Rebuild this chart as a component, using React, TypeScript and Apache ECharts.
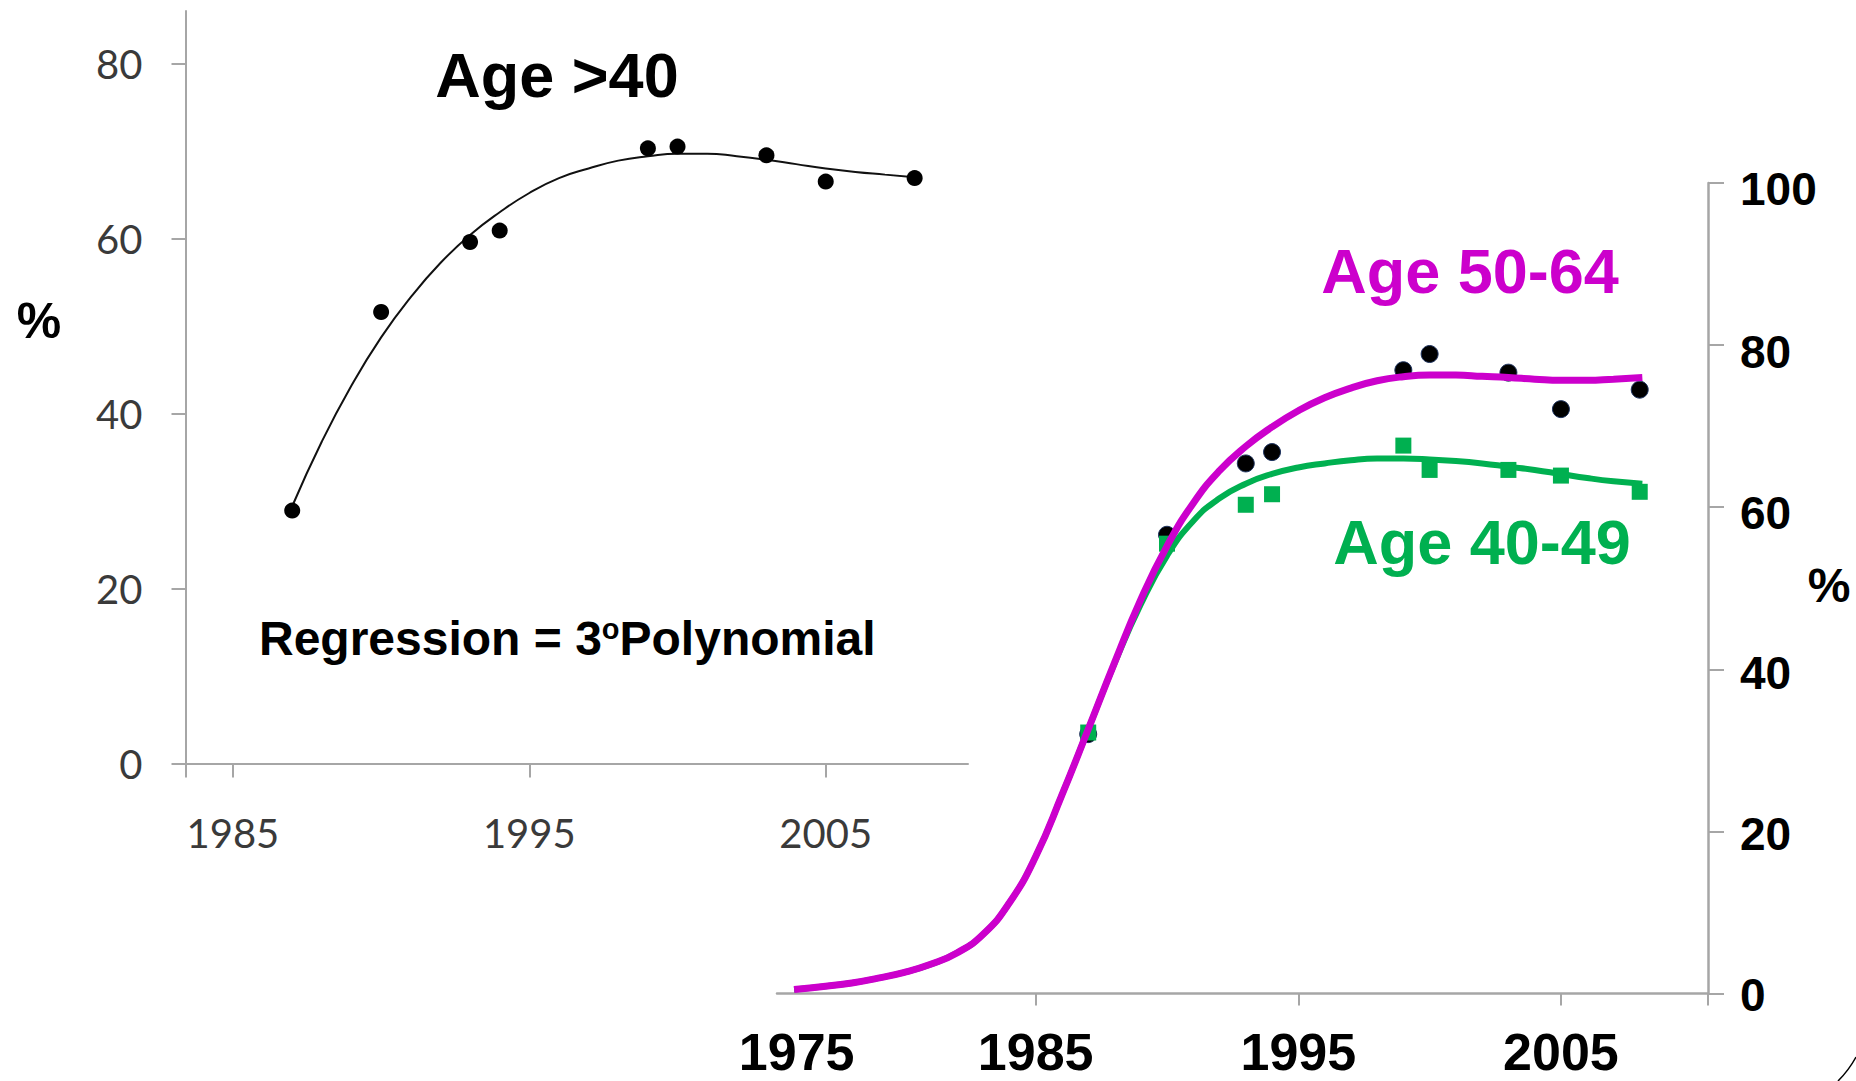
import React, { useEffect, useRef } from "react";
import * as echarts from "echarts";

// ---------- data ----------
// Left panel: Age >40
const leftYears = [1987, 1990, 1993, 1994, 1999, 2000, 2003, 2005, 2008];
const leftValues = [28.9, 51.6, 59.6, 60.9, 70.3, 70.5, 69.5, 66.5, 66.9];
const leftTrendYears = [1987, 1988, 1989, 1990, 1991, 1992, 1993, 1994, 1995, 1996, 1997, 1998, 1999, 2000, 2001, 2002, 2003, 2004, 2005, 2006, 2007, 2008];
const leftTrendValues = [29.4, 36.8, 43.2, 48.7, 53.3, 57.2, 60.4, 63.0, 65.2, 66.9, 68.0, 68.9, 69.4, 69.7, 69.7, 69.4, 69.0, 68.5, 68.0, 67.6, 67.3, 67.0];
const leftXTicks = [1985, 1995, 2005];
const leftYTicks = [0, 20, 40, 60, 80];

// Right panel: Age 50-64 (black dots, magenta curve) and Age 40-49 (green squares, green curve)
const rightYears = [1987, 1990, 1993, 1994, 1999, 2000, 2003, 2005, 2008];
const age5064Values = [32.0, 56.6, 65.4, 66.8, 76.9, 78.9, 76.6, 72.1, 74.5];
const age4049Values = [32.2, 55.5, 60.3, 61.6, 67.6, 64.6, 64.6, 63.9, 61.9];
const age5064TrendYears = [1975.8, 1977, 1978, 1979, 1980, 1981, 1982, 1983, 1984, 1985, 1986, 1987, 1988, 1989, 1990, 1991, 1992, 1993, 1994, 1995, 1996, 1997, 1998, 1999, 2000, 2001, 2002, 2003, 2004, 2005, 2006, 2007, 2008.1];
const age5064TrendValues = [0.5, 0.9, 1.3, 1.9, 2.6, 3.6, 5.0, 7.3, 11.2, 16.9, 24.5, 32.6, 40.8, 48.6, 55.2, 60.5, 64.5, 67.5, 69.9, 71.9, 73.5, 74.7, 75.6, 76.1, 76.3, 76.3, 76.15, 76.0, 75.8, 75.65, 75.65, 75.8, 76.0];
const age4049TrendYears = [1975.8, 1977, 1978, 1979, 1980, 1981, 1982, 1983, 1984, 1985, 1986, 1987, 1988, 1989, 1990, 1991, 1992, 1993, 1994, 1995, 1996, 1997, 1998, 1999, 2000, 2001, 2002, 2003, 2004, 2005, 2006, 2007, 2008.1];
const age4049TrendValues = [0.5, 0.9, 1.3, 1.9, 2.6, 3.6, 5.0, 7.3, 11.2, 16.9, 24.5, 32.6, 40.7, 48.0, 54.0, 58.3, 61.1, 62.9, 64.1, 64.9, 65.4, 65.8, 66.0, 66.0, 65.9, 65.7, 65.4, 65.0, 64.6, 64.1, 63.6, 63.2, 62.9];
const rightXLabelValues = [1975.9, 1985, 1995, 2005];
const rightXTicks = [1985, 1995, 2005, 2010.6];
const rightYTicks = [0, 20, 40, 60, 80, 100];

const pairs = (xs: number[], ys: number[]) => xs.map((x, i) => [x, ys[i]]);

const ARIAL = "'Liberation Sans', Arial, sans-serif";
const AXIS_GRAY = "#a6a6a6";

// small downward nudges of the right-hand tick labels, as in the reference
const rightYLabelNudge: Record<string, number> = { "0": 2, "20": 6, "40": 8, "60": 11, "80": 13, "100": 12 };
const rightYRich: Record<string, any> = {};
rightYTicks.forEach((v) => {
  rightYRich["t" + v] = {
    fontFamily: ARIAL,
    fontWeight: "bold",
    fontSize: 46,
    color: "#000",
    padding: [rightYLabelNudge[String(v)], 0, 0, 0],
  };
});

const option: any = {
  animation: false,
  backgroundColor: "#ffffff",
  grid: [
    { left: 185.5, top: 11, width: 782.5, height: 752.5 },
    { left: 777, top: 183, width: 931, height: 810.5 },
  ],
  xAxis: [
    {
      gridIndex: 0,
      type: "value",
      min: 1983.4,
      max: 2009.8,
      splitLine: { show: false },
      axisLine: { show: true, onZero: false, lineStyle: { color: AXIS_GRAY, width: 2 } },
      axisTick: { show: true, length: 14, customValues: [1983.4, ...leftXTicks], lineStyle: { color: AXIS_GRAY, width: 2 } },
      axisLabel: {
        customValues: leftXTicks,
        formatter: (v: number) => String(Math.round(v)),
        margin: 49,
        fontFamily: "Lato, 'Open Sans', sans-serif",
        fontSize: 40,
        color: "#3a3a3a",
      },
    },
    {
      gridIndex: 1,
      type: "value",
      min: 1975.15,
      max: 2010.6,
      splitLine: { show: false },
      axisLine: { show: true, onZero: false, lineStyle: { color: AXIS_GRAY, width: 2.5 } },
      axisTick: { show: true, length: 12, customValues: rightXTicks, lineStyle: { color: AXIS_GRAY, width: 2 } },
      axisLabel: {
        customValues: rightXLabelValues,
        formatter: (v: number) => String(Math.floor(v)),
        margin: 32,
        fontFamily: ARIAL,
        fontWeight: "bold",
        fontSize: 52,
        color: "#000",
      },
    },
  ],
  yAxis: [
    {
      gridIndex: 0,
      type: "value",
      min: 0,
      max: 86,
      splitLine: { show: false },
      axisLine: { show: true, onZero: false, lineStyle: { color: AXIS_GRAY, width: 2 } },
      axisTick: { show: true, length: 14, customValues: leftYTicks, lineStyle: { color: AXIS_GRAY, width: 2 } },
      axisLabel: {
        customValues: leftYTicks,
        margin: 43,
        fontFamily: "Lato, 'Open Sans', sans-serif",
        fontSize: 40,
        color: "#3a3a3a",
      },
    },
    {
      gridIndex: 1,
      type: "value",
      position: "right",
      min: 0,
      max: 100,
      interval: 20,
      splitLine: { show: false },
      axisLine: { show: true, onZero: false, lineStyle: { color: AXIS_GRAY, width: 2.5 } },
      axisTick: { show: true, length: 16, lineStyle: { color: AXIS_GRAY, width: 2 } },
      axisLabel: {
        margin: 32,
        formatter: (v: number) => `{t${Math.round(v)}|${Math.round(v)}}`,
        rich: rightYRich,
        fontFamily: ARIAL,
        fontWeight: "bold",
        fontSize: 46,
        color: "#000",
      },
    },
  ],
  series: [
    {
      name: "Age >40 trend",
      type: "line",
      xAxisIndex: 0,
      yAxisIndex: 0,
      data: pairs(leftTrendYears, leftTrendValues),
      smooth: 0.5,
      showSymbol: false,
      symbol: "none",
      lineStyle: { color: "#111", width: 2 },
      z: 2,
    },
    {
      name: "Age >40",
      type: "scatter",
      xAxisIndex: 0,
      yAxisIndex: 0,
      data: pairs(leftYears, leftValues),
      symbol: "circle",
      symbolSize: 16,
      itemStyle: { color: "#000", opacity: 1 },
      z: 3,
    },
    {
      name: "Age 50-64",
      type: "scatter",
      xAxisIndex: 1,
      yAxisIndex: 1,
      data: pairs(rightYears, age5064Values),
      symbol: "circle",
      symbolSize: 17,
      itemStyle: { color: "#000", borderColor: "#1f3460", borderWidth: 1, opacity: 1 },
      z: 2,
    },
    {
      name: "Age 40-49",
      type: "scatter",
      xAxisIndex: 1,
      yAxisIndex: 1,
      data: pairs(rightYears, age4049Values),
      symbol: "rect",
      symbolSize: 16,
      itemStyle: { color: "#00B050", opacity: 1 },
      z: 3,
    },
    {
      name: "Age 40-49 trend",
      type: "line",
      xAxisIndex: 1,
      yAxisIndex: 1,
      data: pairs(age4049TrendYears, age4049TrendValues),
      smooth: 0.5,
      showSymbol: false,
      symbol: "none",
      lineStyle: { color: "#00B050", width: 6 },
      z: 4,
    },
    {
      name: "Age 50-64 trend",
      type: "line",
      xAxisIndex: 1,
      yAxisIndex: 1,
      data: pairs(age5064TrendYears, age5064TrendValues),
      smooth: 0.5,
      showSymbol: false,
      symbol: "none",
      lineStyle: { color: "#CC00CC", width: 7 },
      z: 5,
    },
  ],
  graphic: [
    {
      type: "text",
      x: 557,
      y: 75,
      style: { text: "Age >40", fontFamily: ARIAL, fontWeight: "bold", fontSize: 63, fill: "#000", align: "center", verticalAlign: "middle" },
    },
    {
      type: "text",
      x: 259,
      y: 638,
      style: {
        text: "{a|Regression = 3}{b|o}{a|Polynomial}",
        align: "left",
        verticalAlign: "middle",
        rich: {
          a: { fontFamily: ARIAL, fontWeight: "bold", fontSize: 48, fill: "#000" },
          b: { fontFamily: ARIAL, fontWeight: "bold", fontSize: 29, fill: "#000", verticalAlign: "top" },
        },
      },
    },
    {
      type: "text",
      x: 39,
      y: 321,
      style: { text: "%", fontFamily: ARIAL, fontWeight: "bold", fontSize: 50, fill: "#000", align: "center", verticalAlign: "middle" },
    },
    {
      type: "text",
      x: 1470,
      y: 271,
      style: { text: "Age 50-64", fontFamily: ARIAL, fontWeight: "bold", fontSize: 63, fill: "#CC00CC", align: "center", verticalAlign: "middle" },
    },
    {
      type: "text",
      x: 1482,
      y: 542,
      style: { text: "Age 40-49", fontFamily: ARIAL, fontWeight: "bold", fontSize: 63, fill: "#00B050", align: "center", verticalAlign: "middle" },
    },
    {
      type: "text",
      x: 1829,
      y: 585,
      style: { text: "%", fontFamily: ARIAL, fontWeight: "bold", fontSize: 48, fill: "#000", align: "center", verticalAlign: "middle" },
    },
    {
      type: "bezierCurve",
      shape: { x1: 1838, y1: 1081, cpx1: 1849, cpy1: 1070, x2: 1856, y2: 1057 },
      style: { stroke: "#000", lineWidth: 1.5, fill: "none" },
    },
  ],
};

export default function App() {
  const ref = useRef<HTMLDivElement>(null);
  useEffect(() => {
    if (!ref.current) return;
    const chart = echarts.init(ref.current, null, { renderer: "svg" });
    chart.setOption(option);
    return () => chart.dispose();
  }, []);
  return (
    <div
      ref={ref}
      style={{ position: "fixed", left: 0, top: 0, width: 1856, height: 1081, background: "#ffffff" }}
    />
  );
}
